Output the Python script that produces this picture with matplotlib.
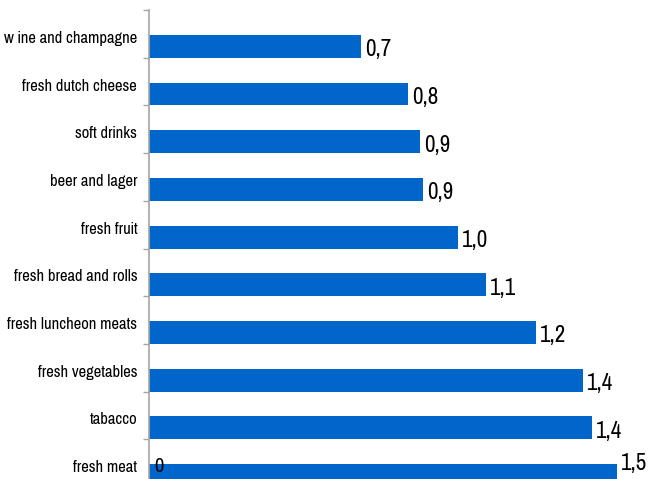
import matplotlib
matplotlib.use("Agg")
import matplotlib.pyplot as plt
from matplotlib.transforms import ScaledTranslation

plt.rcParams['font.family'] = ['Pragati Narrow', 'Liberation Sans', 'DejaVu Sans']

# spend per product group, top to bottom
categories = [
    "w ine and champagne", "fresh dutch cheese", "soft drinks", "beer and lager",
    "fresh fruit", "fresh bread and rolls", "fresh luncheon meats",
    "fresh vegetables", "tabacco", "fresh meat",
]
values = [0.68, 0.83, 0.87, 0.88, 0.99, 1.08, 1.24, 1.39, 1.42, 1.50]

bar_color = "#0066CC"
axis_gray = "#A6A6A6"

fig = plt.figure(figsize=(6.48, 4.79), dpi=100)
ax = fig.add_axes([149 / 648, 1 - 487 / 479, 499 / 648, 477 / 479])

pos = list(range(len(categories)))
ax.barh([p + 0.26 for p in pos], values, height=0.48, color=bar_color, zorder=2)

ax.set_xlim(0, 1.6)
ax.set_ylim(len(categories) - 0.5, -0.5)

# category labels sit in the slot centre, ticks on the slot boundaries
ax.set_yticks(pos)
ax.set_yticklabels(categories, fontsize=13)
ax.set_yticks([p - 0.5 for p in pos] + [len(pos) - 0.5], minor=True)
ax.tick_params(axis="y", which="major", length=0, pad=8.5)
ax.tick_params(axis="y", which="minor", length=4, color=axis_gray, width=1)
ax.set_xticks([])

# nudge the category names a little lower
shift = ScaledTranslation(0, -3 / 100, fig.dpi_scale_trans)
for lbl in ax.get_yticklabels():
    lbl.set_transform(lbl.get_transform() + shift)

for side in ["top", "right", "bottom"]:
    ax.spines[side].set_visible(False)
ax.spines["left"].set_color(axis_gray)
ax.spines["left"].set_linewidth(1.2)

for i, v in enumerate(values):
    lift = 9 if i == len(values) - 1 else -2.5
    ax.annotate(f"{v:.1f}".replace(".", ","), (v, i + 0.26),
                xytext=(3, lift), textcoords="offset points",
                ha="left", va="center", fontsize=18, color="black")

ax.annotate("0", (0, len(values) - 1 + 0.06), xytext=(4, 0),
            textcoords="offset points", ha="left", va="center", fontsize=16)

fig.savefig("out.png", dpi=100)
